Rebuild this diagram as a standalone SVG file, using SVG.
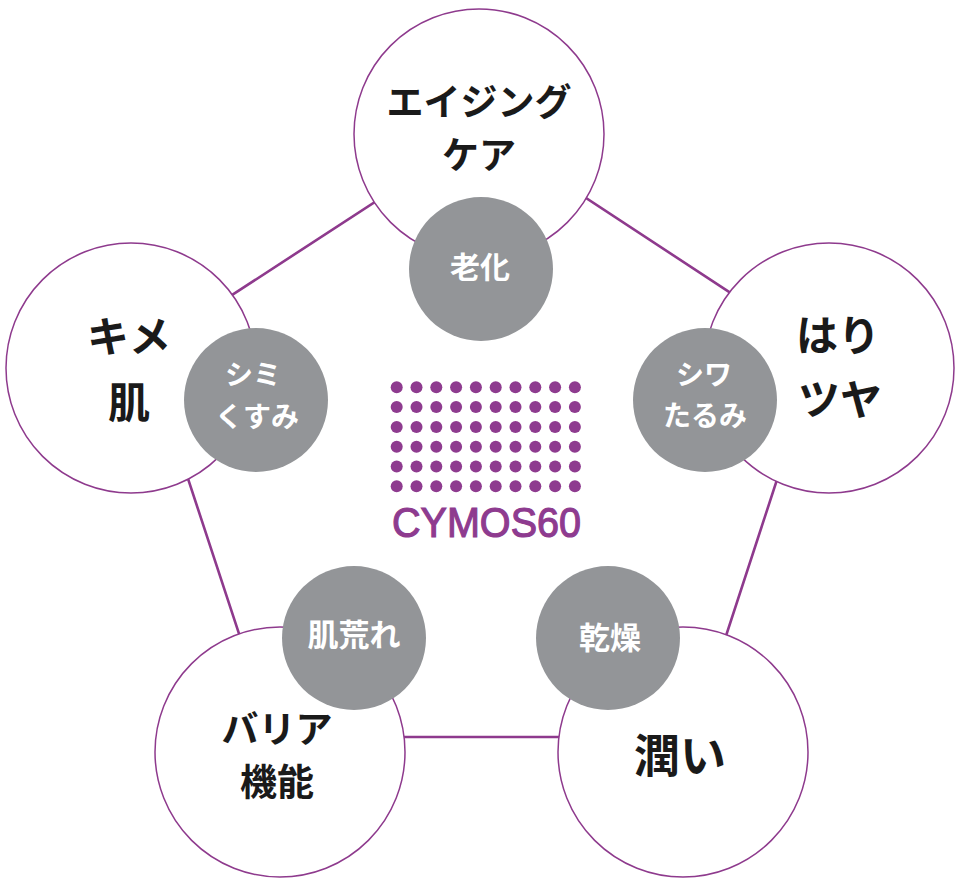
<svg xmlns="http://www.w3.org/2000/svg" width="955" height="879" viewBox="0 0 955 879">
<style>
.edge{fill:none;stroke:#8e3a8d;stroke-width:2.6}
.ring{fill:#ffffff;stroke:#8e3a8d;stroke-width:1.5}
.sub{fill:#939598}
.main{font-family:"Noto Sans CJK JP","Noto Sans CJK SC",sans-serif;font-weight:700;fill:#1a1a1a;text-anchor:middle}
.wt{font-family:"Noto Sans CJK JP","Noto Sans CJK SC",sans-serif;font-weight:700;fill:#ffffff;text-anchor:middle}
.dot{fill:#8e3b8f}
</style>
<defs>
<g id="row">
<circle cx="0" cy="0" r="6"/><circle cx="19.8" cy="0" r="6"/><circle cx="39.6" cy="0" r="6"/><circle cx="59.4" cy="0" r="6"/><circle cx="79.2" cy="0" r="6"/><circle cx="99" cy="0" r="6"/><circle cx="118.8" cy="0" r="6"/><circle cx="138.6" cy="0" r="6"/><circle cx="158.4" cy="0" r="6"/><circle cx="178.2" cy="0" r="6"/>
</g>
</defs>
<rect width="955" height="879" fill="#ffffff"/>
<g id="connectors">
<polygon class="edge" points="484,131 819,351 693,737 273,737 146,351"/>
</g>
<g id="node-aging">
<circle class="ring" cx="479" cy="134" r="125"/>
<circle class="sub" cx="481" cy="269" r="72"/>
<text class="main" x="479" y="116" font-size="37">エイジング</text>
<text class="main" x="479" y="169" font-size="37">ケア</text>
<text class="wt" x="480" y="278" font-size="30">老化</text>
</g>
<g id="node-kime">
<circle class="ring" cx="131" cy="368" r="125"/>
<circle class="sub" cx="256" cy="400" r="72"/>
<text class="main" x="129" y="352" font-size="42">キメ</text>
<text class="main" x="129" y="418" font-size="42">肌</text>
<text class="wt" x="253" y="385" font-size="28">シミ</text>
<text class="wt" x="257" y="427" font-size="28">くすみ</text>
</g>
<g id="node-hari">
<circle class="ring" cx="829" cy="368" r="125"/>
<circle class="sub" cx="705" cy="400" r="72"/>
<text class="main" x="838" y="351" font-size="42">はり</text>
<text class="main" x="840" y="415" font-size="42">ツヤ</text>
<text class="wt" x="704" y="385" font-size="28">シワ</text>
<text class="wt" x="705" y="426" font-size="28">たるみ</text>
</g>
<g id="node-barrier">
<circle class="ring" cx="280" cy="752" r="125"/>
<circle class="sub" cx="354" cy="638" r="72"/>
<text class="main" x="277" y="743" font-size="37">バリア</text>
<text class="main" x="277" y="796" font-size="37">機能</text>
<text class="wt" x="354" y="646" font-size="31">肌荒れ</text>
</g>
<g id="node-uruoi">
<circle class="ring" cx="683" cy="752" r="125"/>
<circle class="sub" cx="608" cy="638" r="72"/>
<text class="main" x="680" y="772" font-size="46">潤い</text>
<text class="wt" x="610" y="649" font-size="31">乾燥</text>
</g>
<g id="logo" class="dot">
<use href="#row" x="396.7" y="387.3"/>
<use href="#row" x="396.7" y="407.1"/>
<use href="#row" x="396.7" y="426.9"/>
<use href="#row" x="396.7" y="446.7"/>
<use href="#row" x="396.7" y="466.5"/>
<use href="#row" x="396.7" y="486.3"/>
<text x="392" y="537" font-family="'Liberation Sans',Arial,sans-serif" font-size="43" fill="#8e3b8f" stroke="#8e3b8f" stroke-width="1.2" textLength="189" lengthAdjust="spacingAndGlyphs">CYMOS60</text>
</g>
</svg>
